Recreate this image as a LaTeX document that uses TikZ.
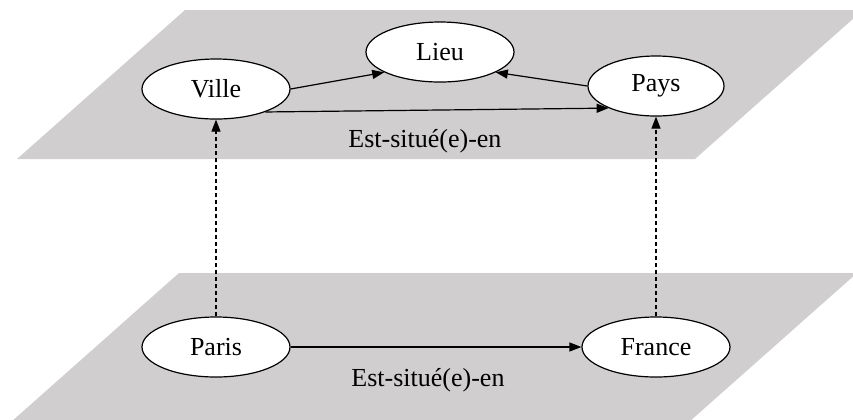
\documentclass[tikz,border=0pt]{standalone}
\usepackage{fontspec}
\setmainfont{Liberation Serif}
\usepackage{xcolor}
\usepackage{tikz}
\usetikzlibrary{shapes}
\usetikzlibrary{arrows.meta, positioning}

\definecolor{planegray}{RGB}{208,206,207}

\tikzset{
  concept/.style={ellipse, draw, fill=white, line width=0.6pt, minimum width=74pt, minimum height=30pt, inner sep=0pt},
  plane/.style={fill=planegray},
  rel/.style={-{Triangle[length=6pt,width=4.5pt]}, line width=0.6pt},
  inst/.style={rel, dash pattern=on 2pt off 1.5pt}
}

\begin{document}
\begin{tikzpicture}[x=0.5pt, y=-0.5pt, font=\fontsize{13}{15}\selectfont]
    \useasboundingbox (0,0) rectangle (853,419);
    \clip (0,0) rectangle (853,419);
    \fill [plane] (185,10) -- (863,10) -- (695,159) -- (17,159) -- cycle;
    \fill [plane] (179,273) -- (857,273) -- (689,422) -- (11,422) -- cycle;
    \node (ville) [concept] at (216,89) {Ville};
    \node (lieu) [concept] at (440,52) {Lieu};
    \node (pays) [concept, minimum width=68pt] at (656,86) {Pays};
    \node (paris) [concept] at (216,347) {Paris};
    \node (france) [concept] at (656,347) {France};
    \path [rel]
        (ville.east) edge (lieu.200)
        (pays.west) edge (lieu.-20)
        (ville.-25) edge node[below=6pt, xshift=-6pt] {Est-situé(e)-en} (pays.-155)
        (paris) edge node[below=7pt, xshift=-4pt] {Est-situé(e)-en} (france);
    \path [inst]
        (paris) edge (ville)
        (france) edge (pays);
\end{tikzpicture}
\end{document}
